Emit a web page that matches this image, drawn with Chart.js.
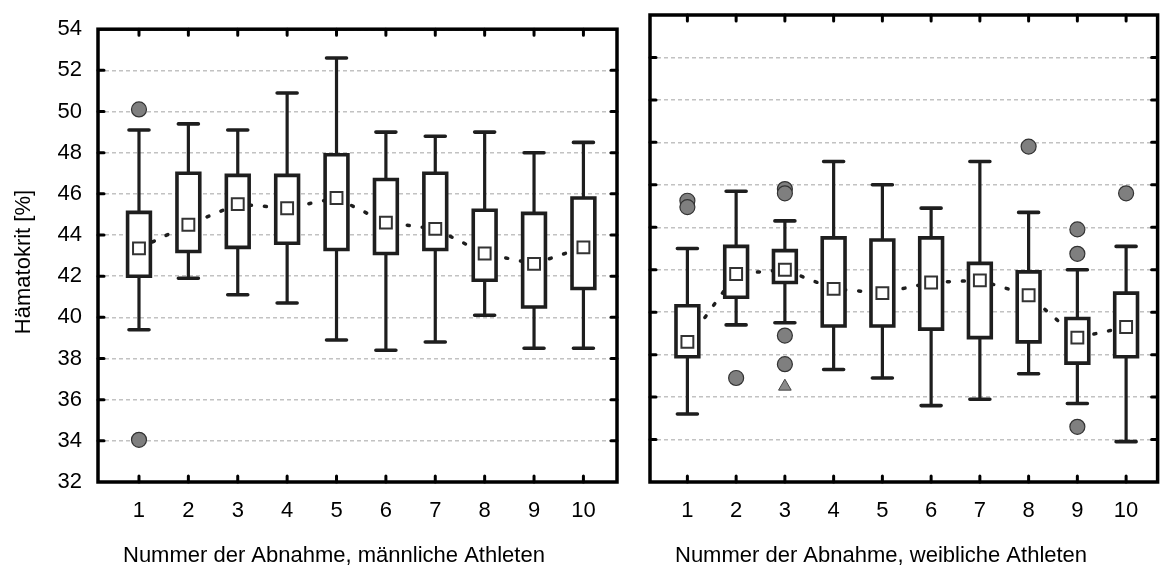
<!DOCTYPE html>
<html><head><meta charset="utf-8">
<script src="https://cdn.jsdelivr.net/npm/chart.js@4.4.0/dist/chart.umd.min.js"></script>
<style>
html,body{margin:0;padding:0;background:#fff;overflow:hidden}
#wrap{position:relative;width:1168px;height:579px}
canvas{position:absolute;top:0}
#cL{left:0}
#cR{left:630px}
</style></head><body>
<div id="wrap"><canvas id="cL" width="630" height="579"></canvas><canvas id="cR" width="538" height="579"></canvas></div>
<script>
// ---- data ----
const categories = [1, 2, 3, 4, 5, 6, 7, 8, 9, 10];
const yTickValues = [32, 34, 36, 38, 40, 42, 44, 46, 48, 50, 52, 54];

// männliche Athleten
const maleLow    = [39.4, 41.9, 41.1, 40.7, 38.9, 38.4, 38.8, 40.1, 38.5, 38.5];
const maleQ1     = [42.0, 43.2, 43.4, 43.6, 43.3, 43.1, 43.3, 41.8, 40.5, 41.4];
const maleMedian = [43.35, 44.5, 45.5, 45.3, 45.8, 44.6, 44.3, 43.1, 42.6, 43.4];
const maleQ3     = [45.1, 47.0, 46.9, 46.9, 47.9, 46.7, 47.0, 45.2, 45.05, 45.8];
const maleHigh   = [49.1, 49.4, 49.1, 50.9, 52.6, 49.0, 48.8, 49.0, 48.0, 48.5];
const maleOutliers = [[1, 50.1], [1, 34.05]];
const maleExtremes = [];

// weibliche Athleten
const femaleLow    = [35.2, 39.4, 39.5, 37.3, 36.9, 35.6, 35.9, 37.1, 35.7, 33.9];
const femaleQ1     = [37.9, 40.7, 41.4, 39.35, 39.35, 39.2, 38.8, 38.6, 37.6, 37.9];
const femaleMedian = [38.6, 41.8, 42.0, 41.1, 40.9, 41.4, 41.5, 40.8, 38.8, 39.3];
const femaleQ3     = [40.3, 43.1, 42.9, 43.5, 43.4, 43.5, 42.3, 41.9, 39.7, 40.9];
const femaleHigh   = [43.0, 45.7, 44.3, 47.1, 46.0, 44.9, 47.1, 44.7, 42.0, 43.1];
const femaleOutliers = [[1, 45.25], [1, 44.95], [2, 36.9], [3, 45.8], [3, 45.6], [3, 38.9], [3, 37.55],
                        [8, 47.8], [9, 43.9], [9, 42.75], [9, 34.6], [10, 45.6]];
const femaleExtremes = [[3, 36.5]];

const yAxisTitle = 'Hämatokrit [%]';
const xTitleMale = 'Nummer der Abnahme, männliche Athleten';
const xTitleFemale = 'Nummer der Abnahme, weibliche Athleten';

// ---- styles ----
const FONT = '"Liberation Sans", Arial, Helvetica, sans-serif';
const INK = '#1e1e1e';
Chart.defaults.font.family = FONT;
Chart.defaults.font.size = 22;
Chart.defaults.color = '#000';

const boxPlugin = {
  id: 'boxes',
  afterDatasetDraw(chart, args) {
    const ds = chart.data.datasets[args.index];
    if (ds.role !== 'trend') return;
    const o = chart.options.plugins.boxes;
    const xs = chart.scales.x, ys = chart.scales.y;
    const ctx = chart.ctx;
    ctx.save();
    ctx.strokeStyle = INK;
    o.cats.forEach((c, i) => {
      const xc = xs.getPixelForValue(c);
      const yl = ys.getPixelForValue(o.low[i]);
      const yh = ys.getPixelForValue(o.high[i]);
      const y1 = ys.getPixelForValue(o.q1[i]);
      const y3 = ys.getPixelForValue(o.q3[i]);
      // stem
      ctx.lineWidth = 3.2;
      ctx.lineCap = 'butt';
      ctx.beginPath(); ctx.moveTo(xc, yl); ctx.lineTo(xc, yh); ctx.stroke();
      // caps
      ctx.lineWidth = 3.6;
      ctx.lineCap = 'round';
      ctx.beginPath();
      ctx.moveTo(xc - 10, yh); ctx.lineTo(xc + 10, yh);
      ctx.moveTo(xc - 10, yl); ctx.lineTo(xc + 10, yl);
      ctx.stroke();
      // box
      ctx.lineCap = 'butt';
      ctx.lineWidth = 3.6;
      ctx.fillStyle = '#fff';
      ctx.beginPath();
      ctx.rect(xc - 11.4, y3, 22.8, y1 - y3);
      ctx.fill();
      ctx.stroke();
    });
    ctx.restore();
  }
};

const framePlugin = {
  id: 'frame',
  afterDraw(chart) {
    const o = chart.options.plugins.frame;
    const {left, right, top, bottom} = chart.chartArea;
    const ctx = chart.ctx;
    const xs = chart.scales.x, ys = chart.scales.y;
    ctx.save();
    // inward ticks
    ctx.strokeStyle = '#000';
    ctx.lineWidth = 3;
    ctx.lineCap = 'round';
    ctx.beginPath();
    o.yTicks.forEach(v => {
      if (v === ys.min || v === ys.max) return;
      const y = ys.getPixelForValue(v);
      ctx.moveTo(left, y); ctx.lineTo(left + 6, y);
      ctx.moveTo(right, y); ctx.lineTo(right - 6, y);
    });
    o.cats.forEach(c => {
      const x = xs.getPixelForValue(c);
      ctx.moveTo(x, top); ctx.lineTo(x, top + 6);
      ctx.moveTo(x, bottom); ctx.lineTo(x, bottom - 6);
    });
    ctx.stroke();
    // frame
    ctx.lineCap = 'butt';
    ctx.lineWidth = 3.5;
    ctx.strokeRect(left, top, right - left, bottom - top);
    // titles
    ctx.fillStyle = '#000';
    ctx.font = '22px ' + FONT;
    ctx.textBaseline = 'alphabetic';
    ctx.textAlign = 'left';
    ctx.fillText(o.xTitle, left + 25, 562);
    if (o.yTitle) {
      ctx.translate(30, 262);
      ctx.rotate(-Math.PI / 2);
      ctx.textAlign = 'center';
      ctx.fillText(o.yTitle, 0, 0);
    }
    ctx.restore();
  }
};

function pts(arr) { return arr.map(p => ({x: p[0], y: p[1]})); }

function makeChart(id, d, opts) {
  return new Chart(document.getElementById(id), {
    type: 'scatter',
    data: {
      datasets: [
        {
          role: 'outliers', order: 1,
          data: pts(d.outliers),
          pointStyle: 'circle', pointRadius: 7.5, pointHoverRadius: 7.5,
          backgroundColor: '#7f7f7f', borderColor: '#333', borderWidth: 1.2
        },
        {
          role: 'extremes', order: 1,
          data: pts(d.extremes),
          pointStyle: 'triangle', pointRadius: 7.3, pointHoverRadius: 7.3,
          backgroundColor: '#8a8a8a', borderColor: '#444', borderWidth: 1
        },
        {
          role: 'median', order: 2,
          data: categories.map((c, i) => ({x: c, y: d.median[i]})),
          pointStyle: 'rect', pointRadius: 8.4, pointHoverRadius: 8.4,
          backgroundColor: '#fff', borderColor: '#333', borderWidth: 2
        },
        {
          role: 'trend', order: 3, type: 'line',
          data: categories.map((c, i) => ({x: c, y: d.median[i]})),
          borderColor: INK, borderWidth: 3.5, borderDash: [2, 13],
          borderCapStyle: 'round', pointRadius: 0, tension: 0, fill: false
        }
      ]
    },
    options: {
      responsive: false,
      animation: false,
      devicePixelRatio: 1,
      events: [],
      layout: {padding: {top: 15, right: opts.padRight, left: 0, bottom: 0}},
      plugins: {
        legend: {display: false},
        tooltip: {enabled: false},
        boxes: {cats: categories, low: d.low, q1: d.q1, q3: d.q3, high: d.high},
        frame: {cats: categories, yTicks: yTickValues, xTitle: opts.xTitle, yTitle: opts.yTitle}
      },
      scales: {
        x: {
          type: 'linear',
          min: opts.xMin, max: opts.xMax,
          offset: false,
          grid: {display: false, drawTicks: false},
          border: {display: false},
          afterBuildTicks: s => { s.ticks = categories.map(v => ({value: v})); },
          afterFit: s => { s.height = 97; },
          ticks: {autoSkip: false, maxRotation: 0, padding: 16, callback: v => String(v), color: '#000'}
        },
        y: {
          type: 'linear',
          min: 32, max: 54,
          afterBuildTicks: s => { s.ticks = yTickValues.map(v => ({value: v})); },
          afterFit: s => { s.width = opts.yWidth; },
          grid: {color: '#c2c2c2', lineWidth: 1.4, drawTicks: false},
          border: {display: false, dash: [4, 3]},
          ticks: {display: opts.showY, padding: 16, color: '#000'}
        }
      }
    },
    plugins: [boxPlugin, framePlugin]
  });
}

makeChart('cL', {
  low: maleLow, q1: maleQ1, median: maleMedian, q3: maleQ3, high: maleHigh,
  outliers: maleOutliers, extremes: maleExtremes
}, {padRight: 13, yWidth: 98, showY: true, xMin: 0.17, xMax: 10.68, xTitle: xTitleMale, yTitle: yAxisTitle});

makeChart('cR', {
  low: femaleLow, q1: femaleQ1, median: femaleMedian, q3: femaleQ3, high: femaleHigh,
  outliers: femaleOutliers, extremes: femaleExtremes
}, {padRight: 2, yWidth: 20, showY: false, xMin: 0.233, xMax: 10.646, xTitle: xTitleFemale, yTitle: null});
</script>
</body></html>
